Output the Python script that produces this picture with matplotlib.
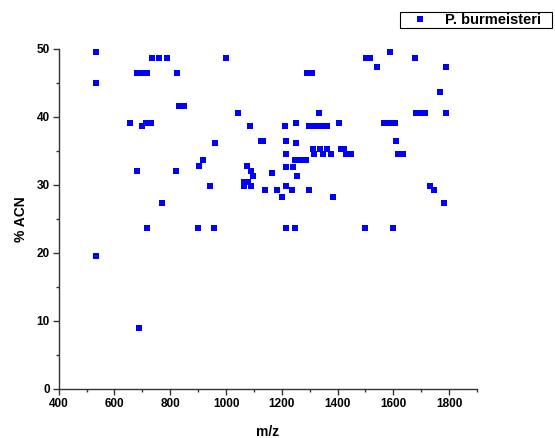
import matplotlib.pyplot as plt
from matplotlib.patches import Rectangle
from matplotlib.ticker import MultipleLocator

plt.rcParams['font.family'] = ['Liberation Sans', 'DejaVu Sans']
plt.rcParams['font.weight'] = 'bold'

# m/z vs %ACN
mz = [534, 733, 760, 789, 1001,
      680, 700, 718, 825, 533,
      830, 848, 1043,
      654, 713, 730, 697, 1085,
      1124, 1132, 959,
      918, 904, 1074, 1088, 1097, 1165, 681, 820,
      943, 1065, 1078, 1065, 1088,
      1140, 1184, 771,
      1589, 1501, 1516, 1676, 1542, 1787,
      1291, 1307, 1766,
      1334, 1680, 1698, 1715, 1788,
      1213, 1250, 1298, 1319, 1341, 1362, 1405, 1567, 1586, 1605,
      1215, 1250, 1608,
      1313, 1337, 1361, 1412, 1424,
      1215, 1316, 1348, 1378, 1431, 1448, 1615, 1635,
      1247, 1267, 1286,
      1214, 1239, 1253,
      1215, 1235, 1297, 1199, 1384,
      1731, 1745, 1782,
      718, 900, 958, 1215, 1248, 1500, 1598,
      534, 687]
acn = [49.6, 48.7, 48.7, 48.7, 48.7,
       46.4, 46.4, 46.4, 46.4, 45.0,
       41.6, 41.6, 40.6,
       39.1, 39.1, 39.1, 38.7, 38.7,
       36.5, 36.5, 36.1,
       33.6, 32.8, 32.8, 32.1, 31.3, 31.8, 32.1, 32.1,
       29.8, 30.5, 30.5, 29.8, 29.8,
       29.2, 29.2, 27.35,
       49.6, 48.7, 48.7, 48.7, 47.4, 47.4,
       46.4, 46.4, 43.7,
       40.6, 40.6, 40.6, 40.6, 40.6,
       38.7, 39.1, 38.7, 38.7, 38.7, 38.7, 39.1, 39.1, 39.1, 39.1,
       36.5, 36.1, 36.5,
       35.3, 35.3, 35.3, 35.3, 35.3,
       34.5, 34.5, 34.5, 34.5, 34.5, 34.5, 34.5, 34.5,
       33.6, 33.6, 33.6,
       32.6, 32.6, 31.3,
       29.8, 29.2, 29.2, 28.3, 28.3,
       29.8, 29.2, 27.35,
       23.7, 23.7, 23.7, 23.7, 23.7, 23.7, 23.7,
       19.6, 9.0]

W, H = 555, 438
fig = plt.figure(figsize=(W / 100, H / 100), dpi=100)
ax = fig.add_axes([0.1058, 0.1119, 0.7537, 0.7763])

ax.plot(mz, acn, 's', color='#0000ff', markersize=4.3, markeredgewidth=0,
        clip_on=False, label='P. burmeisteri')

ax.set_xlim(400, 1900)
ax.set_ylim(0, 50)
ax.xaxis.set_major_locator(MultipleLocator(200))
ax.xaxis.set_minor_locator(MultipleLocator(100))
ax.yaxis.set_major_locator(MultipleLocator(10))
ax.yaxis.set_minor_locator(MultipleLocator(5))

for s in ['top', 'right']:
    ax.spines[s].set_visible(False)
for s in ['left', 'bottom']:
    ax.spines[s].set_color('#333333')
    ax.spines[s].set_linewidth(1.0)

ax.tick_params(which='major', direction='out', length=4, width=1,
               color='#333333', labelsize=8.5, pad=2.5)
ax.tick_params(which='minor', direction='out', length=2.5, width=1,
               color='#333333')
for lab in ax.get_xticklabels() + ax.get_yticklabels():
    lab.set_fontweight('bold')

ax.set_xlabel('m/z', fontsize=10, fontweight='bold', labelpad=11)
ax.set_ylabel('% ACN', fontsize=10, fontweight='bold', labelpad=6)

# legend sits outside the axes, top right, in a plain box
leg = fig.legend(loc='center left', bbox_to_anchor=(400 / W, 1 - 20 / H),
                 frameon=False, fontsize=10.5, handlelength=2.8,
                 handletextpad=0.3, borderpad=0, borderaxespad=0,
                 markerscale=1.15)
for t in leg.get_texts():
    t.set_fontweight('bold')
fig.patches.append(Rectangle((400 / W, 1 - 27.7 / H), 152 / W, 15.4 / H,
                             transform=fig.transFigure, fill=False,
                             edgecolor='black', linewidth=0.8))

plt.savefig('out.png', dpi=100)
